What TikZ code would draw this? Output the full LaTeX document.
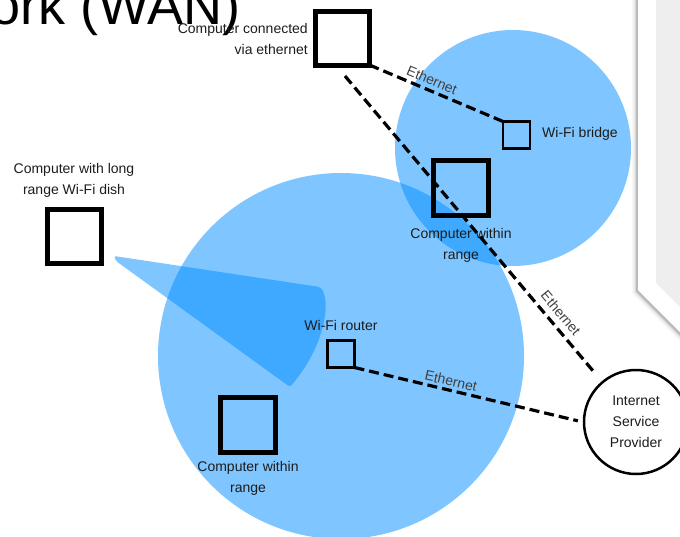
\documentclass[tikz,border=0pt]{standalone}
\usepackage{fontspec}
\setmainfont{Liberation Sans}
\definecolor{wifiblue}{RGB}{0,140,255}
\definecolor{labelink}{RGB}{28,28,28}
\definecolor{panelgray}{RGB}{238,238,238}
\begin{document}
\begin{tikzpicture}[x=1pt,y=-1pt,
  coverage/.style={fill=wifiblue, fill opacity=0.5},
  device/.style={draw=black, line width=5pt, minimum size=#1, inner sep=0pt, outer sep=0pt},
  smalldev/.style={draw=black, line width=2.5pt, minimum size=#1, inner sep=0pt, outer sep=0pt},
  lbl/.style={font=\fontsize{14}{21}\selectfont, text=labelink, align=center, inner sep=0pt},
  eth/.style={font=\fontsize{14}{16}\selectfont, text=black!75, inner sep=0pt},
  cable/.style={draw=black, line width=3.2pt, dash pattern=on 10pt off 5pt}
]
\useasboundingbox (0,0) rectangle (680,536);
\clip (0,0) rectangle (680,536);

% slide title, partly off the left edge
\node[anchor=base east, font=\fontsize{54}{54}\selectfont, inner sep=0pt] (title) at (241,24) {Network (WAN)};

% framed panel on the right with its drop shadow
\foreach \w/\o in {10/0.03, 7/0.05, 4/0.08, 2/0.14}
  \draw[line width=\w pt, black, opacity=\o] (637,-5) -- (637,291) -- (683,337);
\fill[white] (638,-5) -- (638,290) -- (684,336) -- (684,-5) -- cycle;
\fill[panelgray] (656,-5) -- (656,283) -- (684,311) -- (684,-5) -- cycle;

% Wi-Fi coverage areas
\fill[coverage] (513,148) circle (118);
\fill[coverage] (341,356) circle (183);
% beam of the long range dish
\fill[coverage, rounded corners=2pt] (114,256) -- (320,287)
  .. controls (331,300) and (326,345) .. (290,387) -- (116,261) -- cycle;

% devices
\node[device=54pt] (pcEth) at (342.5,38) {};
\node[device=55pt] (pcTop) at (461,188) {};
\node[device=54pt, fill=white] (pcDish) at (74,236) {};
\node[device=55pt] (pcLow) at (248,425) {};
\node[smalldev=27pt] (router) at (341,354) {};
\node[smalldev=27pt] (bridge) at (516.5,135) {};
\node[circle, draw=black, line width=2.5pt, fill=white, minimum size=104pt, lbl] (isp) at (636,422) {Internet\\Service\\Provider};

% device labels
\node[lbl, anchor=east, align=right] (pcEthLbl) at (308,38.5) {Computer connected\\via ethernet};
\node[lbl, anchor=west] (bridgeLbl) at (542,134) {Wi-Fi bridge};
\node[lbl] (pcTopLbl) at (461,245) {Computer within\\range};
\node[lbl] (pcDishLbl) at (74,180.5) {Computer with long\\range Wi-Fi dish};
\node[lbl] (routerLbl) at (341,325) {Wi-Fi router};
\node[lbl] (pcLowLbl) at (248,478) {Computer within\\range};

% ethernet cables
\draw[cable] (pcEth.south east) -- (bridge.north west);
\draw[cable, shorten >=9pt] ([xshift=2.5pt, yshift=-11pt]pcEth.south) -- (isp);
\draw[cable, shorten >=5pt] (router.south east) -- (isp.west);

\node[eth, rotate=-22.5] (eth1) at (432,80) {Ethernet};
\node[eth, rotate=-50] (eth2) at (561,313) {Ethernet};
\node[eth, rotate=-13] (eth3) at (451,381) {Ethernet};
\end{tikzpicture}
\end{document}
